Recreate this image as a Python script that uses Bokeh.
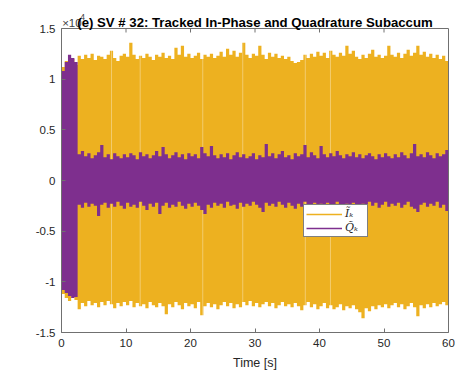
import numpy as np
from bokeh.plotting import figure
from bokeh.models import Range1d, FixedTicker, LinearAxis, Label, Legend, LegendItem, Span
from bokeh.embed import file_html
from bokeh.resources import INLINE

# ---------------- data (values in units of 1e4) ----------------
SAMPLE_STEP = 0.5  # s between envelope samples, t = 0 ... 60 s

# upper / lower envelope of the tracked in-phase subaccumulation I_k
i_hi = [1.12, 1.18, 1.15, 1.20, 1.14, 1.23, 1.20, 1.24, 1.21, 1.25,
        1.19, 1.23, 1.22, 1.20, 1.24, 1.28, 1.21, 1.18, 1.23, 1.25,
        1.22, 1.36, 1.24, 1.20, 1.23, 1.21, 1.25, 1.22, 1.19, 1.24,
        1.22, 1.26, 1.21, 1.23, 1.20, 1.31, 1.24, 1.33, 1.22, 1.25,
        1.21, 1.23, 1.26, 1.20, 1.24, 1.22, 1.25, 1.21, 1.23, 1.27,
        1.22, 1.30, 1.24, 1.28, 1.22, 1.26, 1.36, 1.24, 1.21, 1.25,
        1.23, 1.33, 1.24, 1.20, 1.26, 1.22, 1.25, 1.21, 1.23, 1.20,
        1.22, 1.18, 1.16, 1.17, 1.19, 1.24, 1.21, 1.25, 1.22, 1.27,
        1.23, 1.26, 1.21, 1.28, 1.24, 1.22, 1.26, 1.23, 1.33, 1.25,
        1.28, 1.22, 1.20, 1.24, 1.21, 1.25, 1.29, 1.22, 1.24, 1.21,
        1.23, 1.33, 1.24, 1.22, 1.26, 1.21, 1.25, 1.29, 1.23, 1.26,
        1.33, 1.24, 1.27, 1.22, 1.25, 1.21, 1.24, 1.20, 1.23, 1.18,
        1.22]
i_lo = [-1.12, -1.16, -1.19, -1.14, -1.18, -1.27, -1.21, -1.24, -1.19, -1.23,
        -1.21, -1.25, -1.20, -1.23, -1.19, -1.22, -1.26, -1.21, -1.24, -1.20,
        -1.23, -1.19, -1.25, -1.21, -1.24, -1.22, -1.26, -1.20, -1.23, -1.25,
        -1.21, -1.24, -1.32, -1.22, -1.25, -1.20, -1.23, -1.27, -1.21, -1.24,
        -1.22, -1.26, -1.20, -1.33, -1.24, -1.21, -1.25, -1.22, -1.27, -1.23,
        -1.20, -1.24, -1.21, -1.26, -1.22, -1.25, -1.20, -1.23, -1.19, -1.24,
        -1.21, -1.25, -1.22, -1.20, -1.24, -1.21, -1.26, -1.23, -1.20, -1.24,
        -1.22, -1.25, -1.21, -1.24, -1.28, -1.23, -1.20, -1.25, -1.22, -1.27,
        -1.24, -1.21, -1.26, -1.23, -1.27, -1.25, -1.22, -1.28, -1.24, -1.26,
        -1.23, -1.27, -1.30, -1.36, -1.26, -1.29, -1.24, -1.27, -1.23, -1.25,
        -1.22, -1.26, -1.23, -1.21, -1.25, -1.22, -1.27, -1.24, -1.21, -1.25,
        -1.34, -1.23, -1.26, -1.22, -1.25, -1.21, -1.24, -1.22, -1.20, -1.23,
        -1.21]

# upper / lower envelope of the tracked quadrature subaccumulation Q_k
q_hi = [1.08, 1.17, 1.24, 1.21, 1.17, 0.26, 0.29, 0.24, 0.27, 0.22,
        0.25, 0.28, 0.35, 0.23, 0.26, 0.21, 0.27, 0.24, 0.22, 0.26,
        0.23, 0.27, 0.25, 0.21, 0.28, 0.24, 0.26, 0.22, 0.25, 0.29,
        0.24, 0.33, 0.26, 0.22, 0.25, 0.28, 0.23, 0.26, 0.21, 0.27,
        0.24, 0.26, 0.22, 0.33, 0.27, 0.24, 0.34, 0.25, 0.22, 0.26,
        0.23, 0.27, 0.21, 0.25, 0.28, 0.23, 0.26, 0.22, 0.24, 0.27,
        0.21, 0.25, 0.23, 0.36, 0.24, 0.27, 0.22, 0.26, 0.29, 0.23,
        0.25, 0.21, 0.27, 0.24, 0.26, 0.35, 0.23, 0.28, 0.25, 0.22,
        0.34, 0.26, 0.23, 0.27, 0.24, 0.29, 0.25, 0.22, 0.26, 0.24,
        0.28, 0.23, 0.26, 0.22, 0.25, 0.27, 0.24, 0.21, 0.26, 0.23,
        0.27, 0.24, 0.22, 0.26, 0.23, 0.28, 0.25, 0.22, 0.27, 0.36,
        0.24, 0.26, 0.23, 0.28, 0.25, 0.22, 0.27, 0.24, 0.26, 0.30,
        0.25]
q_lo = [-1.08, -1.11, -1.14, -1.16, -1.15, -0.24, -0.27, -0.22, -0.26, -0.23,
        -0.25, -0.35, -0.24, -0.22, -0.27, -0.23, -0.26, -0.21, -0.25, -0.28,
        -0.22, -0.26, -0.24, -0.27, -0.21, -0.25, -0.29, -0.23, -0.26, -0.22,
        -0.33, -0.25, -0.22, -0.27, -0.24, -0.26, -0.21, -0.25, -0.28, -0.23,
        -0.26, -0.22, -0.25, -0.29, -0.33, -0.24, -0.27, -0.22, -0.25, -0.23,
        -0.27, -0.21, -0.25, -0.24, -0.28, -0.22, -0.26, -0.23, -0.25, -0.21,
        -0.24, -0.27, -0.31, -0.22, -0.25, -0.23, -0.26, -0.21, -0.24, -0.27,
        -0.22, -0.25, -0.28, -0.23, -0.26, -0.21, -0.24, -0.27, -0.22, -0.25,
        -0.23, -0.26, -0.22, -0.28, -0.25, -0.21, -0.24, -0.27, -0.23, -0.26,
        -0.22, -0.25, -0.28, -0.23, -0.26, -0.21, -0.25, -0.22, -0.27, -0.24,
        -0.21, -0.26, -0.23, -0.25, -0.22, -0.27, -0.24, -0.21, -0.26, -0.28,
        -0.31, -0.24, -0.22, -0.26, -0.23, -0.25, -0.21, -0.27, -0.24, -0.30,
        -0.26]

# times of the thin light streaks through the I_k band
streak_t = [7.75, 12.2, 21.9, 28.1, 37.8, 41.7]

x_ticks = [0, 10, 20, 30, 40, 50, 60]
y_ticks = [-1.5, -1.0, -0.5, 0.0, 0.5, 1.0, 1.5]
y_tick_labels = ["-1.5", "-1", "-0.5", "0", "0.5", "1", "1.5"]
Y_MIN, Y_MAX = -1.5, 1.5

title_text = "(e) SV # 32: Tracked In-Phase and Quadrature Subaccum"
x_label = "Time [s]"
legend_labels = ["\u0128\u2096", "Q\u0303\u2096"]
exponent_base = "\u00d710"
exponent = "4"

t = np.arange(len(i_hi)) * SAMPLE_STEP

# ---------------- styling ----------------
ORANGE = "#EDB120"
PURPLE = "#7E2F8E"
TXT = "#262626"
AX = "#707070"
FONT = "Liberation Sans"
PX_PER_UNIT = 101.33          # vertical scale of the axes box
HEADROOM_PX = 24              # room above the box for title / exponent
TICK_PX = 4

p = figure(width=455, height=375, output_backend="svg", toolbar_location=None,
           x_range=Range1d(0, 60),
           y_range=Range1d(Y_MIN, Y_MAX + HEADROOM_PX / PX_PER_UNIT),
           min_border_left=61, min_border_right=7, min_border_top=4, min_border_bottom=43,
           background_fill_color="white", border_fill_color="white")
p.xgrid.visible = False
p.ygrid.visible = False
p.outline_line_color = None

# data
p.varea_step(x=t, y1=i_lo, y2=i_hi, step_mode="after", fill_color=ORANGE)
p.segment(x0=streak_t, y0=-1.45, x1=streak_t, y1=1.45, line_color="white",
          line_alpha=0.35, line_width=1)
p.varea_step(x=t, y1=q_lo, y2=q_hi, step_mode="after", fill_color=PURPLE)

# legend entries (line style like the original)
r_i = p.line(x=[np.nan, np.nan], y=[np.nan, np.nan], line_color=ORANGE, line_width=1.5)
r_q = p.line(x=[np.nan, np.nan], y=[np.nan, np.nan], line_color=PURPLE, line_width=1.5)
legend = Legend(items=[LegendItem(label=legend_labels[0], renderers=[r_i], index=0),
                       LegendItem(label=legend_labels[1], renderers=[r_q], index=0)],
                location=(242, 95), orientation="vertical",
                label_text_font="DejaVu Serif", label_text_font_style="italic",
                label_text_font_size="11px", label_text_color=TXT,
                glyph_width=36, glyph_height=12, label_height=12, label_standoff=3,
                spacing=1, padding=2, margin=0,
                border_line_color="#000000", border_line_width=0.8,
                background_fill_color="white", background_fill_alpha=1.0)
p.add_layout(legend, "center")

# axes
def style_axis(ax, ticks):
    ax.ticker = FixedTicker(ticks=ticks)
    ax.axis_line_color = AX
    ax.major_tick_line_color = AX
    ax.major_tick_in = TICK_PX
    ax.major_tick_out = 0
    ax.minor_tick_line_color = None
    ax.major_label_text_font = FONT
    ax.major_label_text_font_size = "11.5px"
    ax.major_label_text_color = TXT

style_axis(p.xaxis[0], x_ticks)
style_axis(p.yaxis[0], y_ticks)
p.yaxis[0].bounds = (Y_MIN, Y_MAX)
p.xaxis[0].major_label_standoff = 6
p.yaxis[0].major_label_standoff = 6
p.yaxis[0].major_label_overrides = {v: s for v, s in zip(y_ticks, y_tick_labels)}
p.xaxis[0].axis_label = x_label
p.xaxis[0].axis_label_text_font = FONT
p.xaxis[0].axis_label_text_font_size = "12.5px"
p.xaxis[0].axis_label_text_font_style = "normal"
p.xaxis[0].axis_label_text_color = TXT
p.xaxis[0].axis_label_standoff = 6

# right edge of the box
right_ax = LinearAxis(bounds=(Y_MIN, Y_MAX))
style_axis(right_ax, y_ticks)
right_ax.major_tick_in = 0
right_ax.major_label_overrides = {v: "" for v in y_ticks}
right_ax.major_label_standoff = 0
p.add_layout(right_ax, "right")

# top edge of the box with inward ticks
p.add_layout(Span(location=Y_MAX, dimension="width", line_color=AX, line_width=1))
p.segment(x0=x_ticks, y0=Y_MAX, x1=x_ticks, y1=Y_MAX - TICK_PX / PX_PER_UNIT,
          line_color=AX, line_width=1)

# exponent marker (x10^4) and title
p.add_layout(Label(x=0.1, y=Y_MAX + 6 / PX_PER_UNIT, text=exponent_base,
                   text_font=FONT, text_font_size="11.5px", text_color="#404040",
                   text_baseline="alphabetic"))
p.add_layout(Label(x=2.9, y=Y_MAX + 12 / PX_PER_UNIT, text=exponent,
                   text_font=FONT, text_font_size="8.5px", text_color="#404040",
                   text_baseline="alphabetic"))
p.add_layout(Label(x=30, y=Y_MAX + 6 / PX_PER_UNIT, text=title_text, text_align="center",
                   text_baseline="alphabetic", text_font=FONT, text_font_size="13.2px",
                   text_font_style="bold", text_color="#000000"))

open("out.html", "w").write(file_html(p, INLINE))
